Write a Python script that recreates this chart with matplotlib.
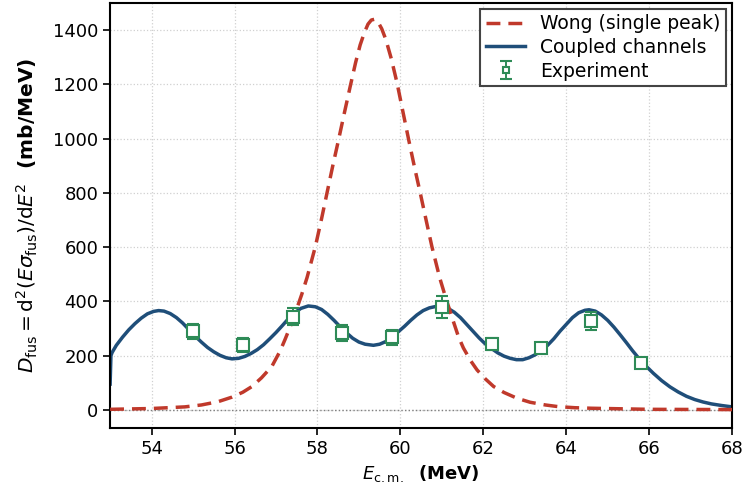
import numpy as np
import matplotlib
matplotlib.use('Agg')
import matplotlib.pyplot as plt

# Wong (single peak) curve
wong_e = [53.0, 54.0, 54.8, 55.2, 55.6, 55.94, 56.2, 56.42, 56.65, 56.9, 57.1, 57.22,
          57.4, 57.62, 57.75, 57.95, 58.1, 58.23, 58.37, 58.51, 58.65, 58.79, 58.92,
          59.03, 59.13, 59.22, 59.3, 59.38, 59.46, 59.55, 59.65, 59.78, 59.92, 60.06,
          60.2, 60.34, 60.48, 60.62, 60.76, 60.95, 61.1, 61.28, 61.4, 61.52, 61.7,
          61.85, 62.05, 62.25, 62.5, 62.81, 63.13, 63.5, 63.8, 64.2, 64.6, 65.3,
          66.0, 67.0, 68.0]
wong_d = [2, 5, 11, 18, 30, 47, 65, 86, 118, 160, 217, 260,
          328, 425, 488, 602, 705, 799, 900, 996, 1095, 1192, 1280,
          1345, 1390, 1422, 1437, 1440, 1430, 1405, 1365, 1295, 1205, 1100,
          996, 895, 799, 700, 602, 486, 410, 325, 270, 228, 180,
          147, 114, 86, 64, 43, 28, 18, 12, 8, 6, 4,
          2, 1.5, 1]

# coupled channels curve
cc_e = [53.0, 53.02, 53.05, 53.15, 53.3, 53.45, 53.6, 53.75, 53.9, 54.05, 54.17,
        54.3, 54.45, 54.6, 54.75, 54.9, 55.05, 55.2, 55.35, 55.5, 55.65, 55.8,
        55.94, 56.1, 56.25, 56.4, 56.55, 56.7, 56.85, 57.0, 57.15, 57.3, 57.45,
        57.6, 57.78, 57.95, 58.1, 58.25, 58.4, 58.55, 58.7, 58.85, 59.0, 59.15,
        59.35, 59.5, 59.65, 59.8, 59.95, 60.1, 60.25, 60.4, 60.55, 60.7, 60.85,
        61.0, 61.15, 61.3, 61.45, 61.6, 61.75, 61.9, 62.05, 62.2, 62.35, 62.5,
        62.65, 62.8, 62.95, 63.1, 63.25, 63.4, 63.55, 63.7, 63.85, 64.0, 64.15,
        64.3, 64.45, 64.55, 64.7, 64.85, 65.0, 65.15, 65.3, 65.45, 65.6, 65.75,
        65.9, 66.1, 66.3, 66.5, 66.7, 66.9, 67.1, 67.3, 67.5, 67.75, 68.0]
cc_d = [95, 200, 212, 238, 268, 295, 318, 338, 354, 363, 366,
        364, 355, 340, 320, 296, 272, 250, 230, 214, 201, 192,
        188, 190, 197, 208, 222, 240, 262, 285, 310, 336, 358,
        374, 383, 380, 370, 352, 330, 306, 284, 264, 250, 242,
        238, 242, 252, 268, 288, 308, 330, 350, 366, 376, 381,
        381, 374, 360, 340, 315, 290, 265, 243, 226, 210, 198,
        190, 185, 185, 192, 203, 218, 238, 262, 290, 315, 340,
        358, 367, 369, 364, 350, 330, 305, 277, 248, 218, 190,
        165, 135, 108, 85, 66, 50, 38, 29, 22, 16, 11]

# experiment
exp_e = [55.0, 56.2, 57.4, 58.6, 59.8, 61.0, 62.2, 63.4, 64.6, 65.8]
exp_d = [289, 240, 344, 283, 267, 379, 242, 227, 328, 172]
exp_err = [28, 25, 32, 30, 28, 40, 22, 12, 34, 8]

red = '#c0392b'
blue = '#1f4e79'
green = '#2e8b57'

fig = plt.figure(figsize=(7.44, 4.9), dpi=100)
ax = fig.add_axes([0.148, 0.127, 0.836, 0.867])

ax.grid(True, linestyle=':', color='#d0d0d0', linewidth=0.9)
ax.set_axisbelow(True)
ax.axhline(0, color='gray', linestyle=':', linewidth=1.0, zorder=1)

ax.plot(wong_e, wong_d, color=red, linestyle='--', linewidth=2.5,
        dashes=(4, 2.3), label='Wong (single peak)', zorder=3)
ax.plot(cc_e, cc_d, color=blue, linewidth=2.5, label='Coupled channels', zorder=2)
ax.errorbar(exp_e, exp_d, yerr=exp_err, fmt='s', color=green, markerfacecolor='white',
            markeredgecolor=green, markersize=8, markeredgewidth=1.5, elinewidth=1.4,
            capsize=4, capthick=1.4, label='Experiment', zorder=4)

ax.set_xlim(53, 68)
ax.set_ylim(-66, 1500)
ax.set_xticks(np.arange(54, 69, 2))
ax.set_yticks(np.arange(0, 1401, 200))
ax.tick_params(labelsize=13, direction='out', length=5, width=1.2)
for s in ax.spines.values():
    s.set_linewidth(1.5)

ax.set_xlabel(r'$E_{\rm c.m.}$  (MeV)', fontsize=13, fontweight='bold')
ax.set_ylabel(r'$D_{\rm fus} = {\rm d}^2(E\sigma_{\rm fus})/{\rm d}E^2$  (mb/MeV)',
              fontsize=14.5, fontweight='bold', labelpad=9)

leg = ax.legend(loc='upper right', fontsize=13.5, fancybox=False, framealpha=1,
                edgecolor='#444444', borderaxespad=0.3, borderpad=0.3,
                labelspacing=0.25, handlelength=2.1, markerscale=0.6)
leg.get_frame().set_linewidth(1.5)

fig.savefig('out.png', dpi=100)
